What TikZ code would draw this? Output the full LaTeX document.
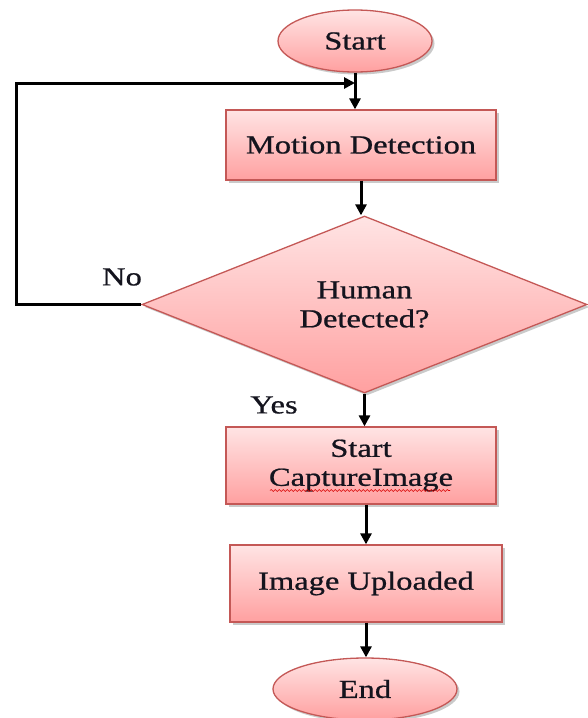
\documentclass[tikz,border=0pt]{standalone}
\usepackage{fontspec}
\setmainfont{Liberation Serif}[FakeStretch=1.25, FakeBold=0.8]
\usetikzlibrary{shapes.geometric,arrows.meta,shadows,decorations.pathmorphing}

\definecolor{boxedge}{RGB}{196,88,86}
\definecolor{filltop}{RGB}{255,228,228}
\definecolor{fillbot}{RGB}{255,160,160}
\definecolor{inktext}{RGB}{20,20,30}

\tikzset{
  flowbox/.style={draw=boxedge, line width=1.3pt, top color=filltop, bottom color=fillbot,
    drop shadow={shadow xshift=2.5pt, shadow yshift=-2.5pt, fill=black!35, opacity=0.6},
    inner sep=0pt, align=center, text=inktext, font=\fontsize{26}{29}\selectfont},
  procbox/.style={flowbox, rectangle},
  termbox/.style={flowbox, ellipse},
  decbox/.style={flowbox, diamond},
  arr/.style={line width=3pt, -{Triangle[length=11pt,width=11pt]}},
  lbl/.style={text=inktext, font=\fontsize{26}{29}\selectfont, inner sep=0pt},
  spellwave/.style={draw=red!85!black, line width=0.6pt,
    decorate, decoration={snake, amplitude=1pt, segment length=4pt}}
}

\begin{document}
\begin{tikzpicture}[x=1pt,y=1pt]
  \useasboundingbox (0,0) rectangle (588,-718);

  % flow nodes
  \node[termbox, minimum width=154, minimum height=62] (start) at (355,-41) {Start};
  \node[procbox, minimum width=270, minimum height=70] (motion) at (361,-145) {Motion Detection};
  \node[decbox, minimum width=445, minimum height=177] (decide) at (364.5,-304.5) {Human\\Detected?};
  \node[procbox, minimum width=270, minimum height=77] (capture) at (361,-465.5) {Start\\CaptureImage};
  \node[procbox, minimum width=272, minimum height=77] (upload) at (366,-583.5) {Image Uploaded};
  \node[termbox, minimum width=184, minimum height=62] (finish) at (365,-689) {End};

  % branch labels
  \node[lbl] (nolbl) at (122,-277) {No};
  \node[lbl] (yeslbl) at (274,-405) {Yes};

  % loop-back route
  \coordinate (loopcorner) at (16,-83);
  \coordinate (loopjoin) at (355,-83);

  % connectors
  \draw[arr] (start.south) -- (start.south |- motion.north);
  \draw[arr] (motion.south) -- (motion.south |- decide.north);
  \draw[arr] (decide.west) -- (decide.west -| loopcorner) |- (loopjoin);
  \draw[arr] (decide.south) -- (decide.south |- capture.north);
  \draw[arr] (capture.south -| upload.north) -- (upload.north);
  \draw[arr] (upload.south) -- (upload.south |- finish.north);

  % spell-check squiggle under the second line of the capture box
  \draw[spellwave] ([shift={(-91,-25)}]capture.center) -- ([shift={(89,-25)}]capture.center);
\end{tikzpicture}
\end{document}
